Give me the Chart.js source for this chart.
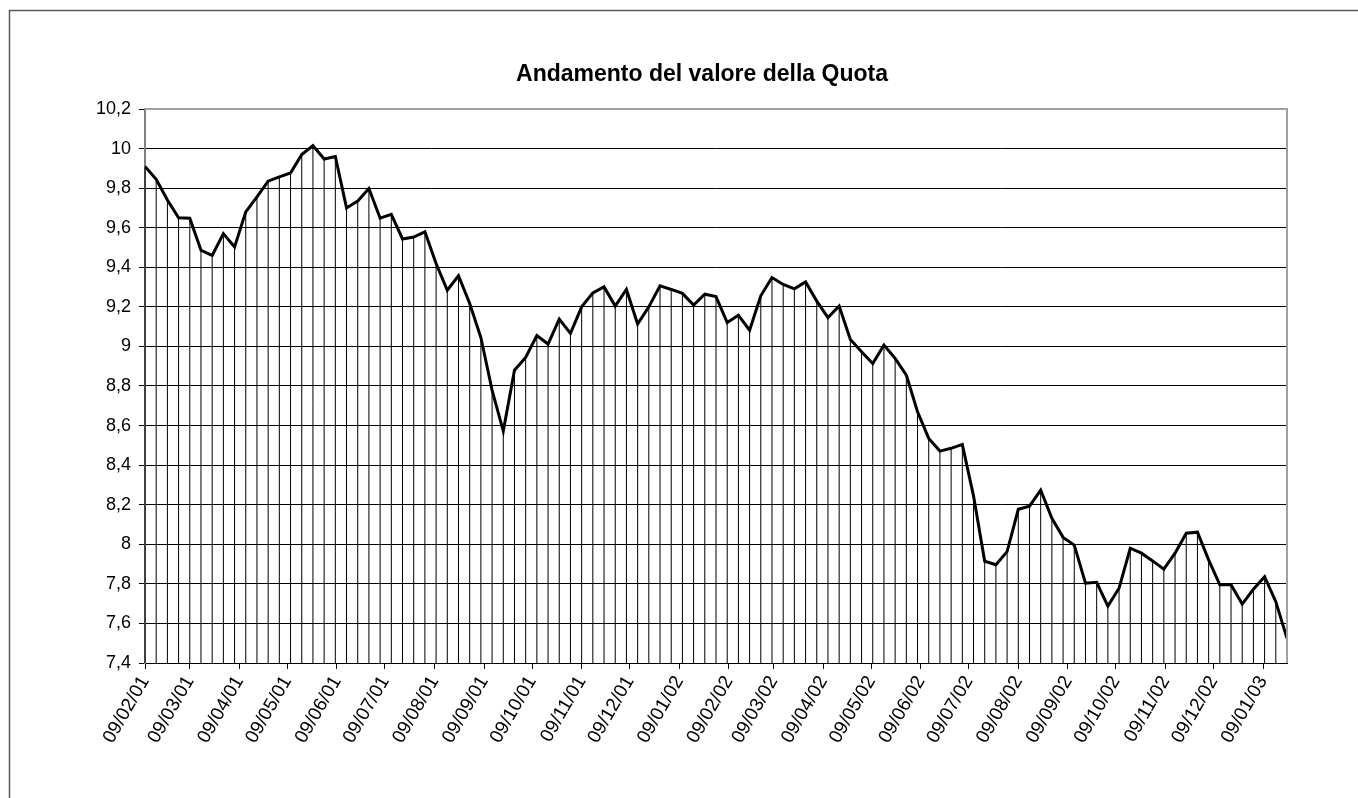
<!DOCTYPE html>
<html>
<head>
<meta charset="utf-8">
<script src="https://cdn.jsdelivr.net/npm/chart.js@4/dist/chart.umd.min.js"></script>
<style>
  html, body { margin: 0; padding: 0; background: #fff; }
  #wrap { width: 1358px; height: 798px; position: relative; }
</style>
</head>
<body>
<div id="wrap"><canvas id="c" width="1358" height="798"></canvas></div>
<script>
// ---- DATA ----
const chartTitle = "Andamento del valore della Quota";
const startDate = "2001-02-09";          // first weekly observation
const quota = [
  9.91, 9.845, 9.74, 9.65, 9.648, 9.486, 9.46, 9.57, 9.503, 9.68,
  9.756, 9.835, 9.857, 9.877, 9.97, 10.015, 9.947, 9.96, 9.70, 9.735,
  9.798, 9.648, 9.668, 9.543, 9.553, 9.579, 9.419, 9.284, 9.357, 9.217,
  9.045, 8.779, 8.572, 8.88, 8.944, 9.055, 9.012, 9.138, 9.066, 9.20,
  9.271, 9.301, 9.204, 9.288, 9.113, 9.20, 9.306, 9.288, 9.268, 9.209,
  9.264, 9.252, 9.121, 9.158, 9.082, 9.256, 9.348, 9.313, 9.291, 9.326,
  9.229, 9.146, 9.204, 9.035, 8.973, 8.914, 9.007, 8.94, 8.855, 8.67,
  8.535, 8.471, 8.485, 8.505, 8.245, 7.914, 7.897, 7.963, 8.177, 8.193,
  8.274, 8.131, 8.035, 7.996, 7.803, 7.808, 7.688, 7.778, 7.98, 7.955,
  7.916, 7.874, 7.955, 8.056, 8.061, 7.921, 7.795, 7.796, 7.698, 7.773,
  7.836, 7.71, 7.525
];
const tickDates = [
  "2001-02-09","2001-03-09","2001-04-09","2001-05-09","2001-06-09","2001-07-09",
  "2001-08-09","2001-09-09","2001-10-09","2001-11-09","2001-12-09","2002-01-09",
  "2002-02-09","2002-03-09","2002-04-09","2002-05-09","2002-06-09","2002-07-09",
  "2002-08-09","2002-09-09","2002-10-09","2002-11-09","2002-12-09","2003-01-09"
];
const tickLabels = [
  "09/02/01","09/03/01","09/04/01","09/05/01","09/06/01","09/07/01",
  "09/08/01","09/09/01","09/10/01","09/11/01","09/12/01","09/01/02",
  "09/02/02","09/03/02","09/04/02","09/05/02","09/06/02","09/07/02",
  "09/08/02","09/09/02","09/10/02","09/11/02","09/12/02","09/01/03"
];
const yTicks = [7.4, 7.6, 7.8, 8, 8.2, 8.4, 8.6, 8.8, 9, 9.2, 9.4, 9.6, 9.8, 10, 10.2];

// ---- helpers (date arithmetic for a date axis) ----
const DAY = 86400000;
const t0 = Date.parse(startDate + "T00:00:00Z");
const dayOf = s => Math.round((Date.parse(s + "T00:00:00Z") - t0) / DAY);
const tickDays = tickDates.map(dayOf);
const points = quota.map((v, i) => ({ x: i * 7, y: v })); // weekly observations
const lastDay = (quota.length - 1) * 7;

const FONT = "'Liberation Sans', Arial, sans-serif";

const decor = {
  id: 'decor',
  beforeDraw(chart) {
    const ctx = chart.ctx;
    ctx.save();
    ctx.fillStyle = '#fff';
    ctx.fillRect(0, 0, chart.width, chart.height);
    ctx.restore();
  },
  beforeDatasetsDraw(chart) {
    // drop lines from each point to the x axis
    const ctx = chart.ctx;
    const meta = chart.getDatasetMeta(0);
    const bottom = chart.chartArea.bottom;
    ctx.save();
    ctx.strokeStyle = '#000';
    ctx.lineWidth = 1;
    ctx.beginPath();
    meta.data.forEach(p => {
      ctx.moveTo(p.x, p.y);
      ctx.lineTo(p.x, bottom);
    });
    ctx.stroke();
    ctx.restore();
  },
  afterDraw(chart) {
    const ctx = chart.ctx;
    const a = chart.chartArea;
    ctx.save();
    // plot area top/right border
    ctx.strokeStyle = '#a0a0a0';
    ctx.lineWidth = 2;
    ctx.beginPath();
    ctx.moveTo(a.left, a.top);
    ctx.lineTo(a.right, a.top);
    ctx.lineTo(a.right, a.bottom);
    ctx.stroke();
    // outer chart frame
    ctx.strokeStyle = '#5a5a5a';
    ctx.lineWidth = 1.5;
    ctx.strokeRect(9.5, 10.5, chart.width + 40, chart.height + 40);
    // title
    ctx.fillStyle = '#000';
    ctx.font = "bold 23px " + FONT;
    ctx.textAlign = 'center';
    ctx.textBaseline = 'middle';
    ctx.fillText(chartTitle, 702, 75);
    ctx.restore();
  }
};

new Chart(document.getElementById('c'), {
  type: 'line',
  data: {
    datasets: [{
      data: points,
      borderColor: '#000',
      borderWidth: 3,
      pointRadius: 0,
      tension: 0,
      fill: false
    }]
  },
  options: {
    responsive: false,
    animation: false,
    layout: { padding: { top: 109, right: 71, left: 0, bottom: 0 } },
    plugins: { legend: { display: false }, title: { display: false }, tooltip: { enabled: false } },
    scales: {
      x: {
        type: 'linear',
        min: 0,
        max: lastDay,
        afterBuildTicks: s => { s.ticks = tickDays.map(v => ({ value: v })); },
        afterFit: s => { s.height = 135; },
        grid: { drawOnChartArea: false, drawTicks: true, tickLength: 6, tickColor: '#000', lineWidth: 1 },
        border: { color: '#000', width: 1 },
        ticks: {
          autoSkip: false,
          minRotation: 60,
          maxRotation: 60,
          padding: 3,
          color: '#000',
          font: { family: FONT, size: 19 },
          callback: (v, i) => tickLabels[i]
        }
      },
      y: {
        min: 7.4,
        max: 10.2,
        afterBuildTicks: s => { s.ticks = yTicks.map(v => ({ value: v })); },
        afterFit: s => { s.width = 145; },
        grid: { color: '#000', lineWidth: 1, drawTicks: true, tickLength: 6, tickColor: '#000' },
        border: { color: '#808080', width: 2 },
        ticks: {
          padding: 8,
          color: '#000',
          font: { family: FONT, size: 18 },
          callback: v => String(Number(v.toFixed(1))).replace('.', ',')
        }
      }
    }
  },
  plugins: [decor]
});
</script>
</body>
</html>
